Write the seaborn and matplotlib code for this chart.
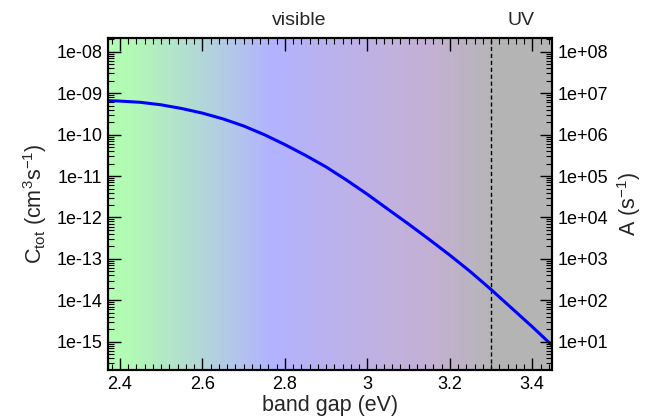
import matplotlib
matplotlib.use("Agg")
import matplotlib.pyplot as plt
import numpy as np
import pandas as pd
import seaborn as sns
from matplotlib.colors import LinearSegmentedColormap
from matplotlib.ticker import FixedLocator, FuncFormatter, MultipleLocator

# Values
band_gap = [2.371, 2.40, 2.45, 2.50, 2.55, 2.60, 2.65, 2.70, 2.75, 2.80, 2.85, 2.90,
            2.95, 3.00, 3.05, 3.10, 3.15, 3.20, 3.25, 3.30, 3.35, 3.40, 3.447]
c_tot = [6.61e-10, 6.46e-10, 6.03e-10, 5.25e-10, 4.27e-10, 3.31e-10, 2.40e-10, 1.62e-10,
         1.00e-10, 5.75e-11, 3.16e-11, 1.66e-11, 7.94e-12, 3.63e-12, 1.58e-12, 6.92e-13,
         2.95e-13, 1.23e-13, 4.90e-14, 1.82e-14, 6.46e-15, 2.29e-15, 8.32e-16]

uv_edge = 3.3
x_lo, x_hi = 2.371, 3.447
c_lo, c_hi = 2.07e-16, 2.18e-08
a_factor = 1e16  # right axis: A = C_tot * 1e16

# background colour stops (eV, colour)
spectrum_ev = [2.371, 2.42, 2.57, 2.77, 2.91, 3.15, 3.299, 3.301, 3.447]
spectrum_col = ["#b2fcb2", "#b2fab4", "#b2dcd2", "#b2b2ff", "#bab2ee",
                "#c4b0d4", "#b6b4b8", "#b4b4b4", "#b4b4b4"]

sns.set_style("ticks")
plt.rcParams["font.family"] = ["Liberation Sans", "DejaVu Sans"]
plt.rcParams["mathtext.fontset"] = "custom"
plt.rcParams["mathtext.rm"] = "Liberation Sans"
plt.rcParams["mathtext.it"] = "Liberation Sans:italic"
plt.rcParams["mathtext.bf"] = "Liberation Sans:bold"


def log_ticks(lo, hi):
    # decade ticks and 2..9 minor ticks that fall inside (lo, hi)
    decades = np.arange(np.floor(np.log10(lo)), np.ceil(np.log10(hi)) + 1)
    major = [10.0 ** d for d in decades if lo <= 10.0 ** d <= hi]
    minor = [m * 10.0 ** d for d in decades for m in range(2, 10) if lo <= m * 10.0 ** d <= hi]
    return major, minor


fig = plt.figure(figsize=(6.52, 4.2), dpi=100)
ax = fig.add_axes([0.1656, 0.119, 0.6805, 0.791])

# spectrum background
pos = [(e - x_lo) / (x_hi - x_lo) for e in spectrum_ev]
cmap = LinearSegmentedColormap.from_list("spec", list(zip(pos, spectrum_col)))
xe = np.linspace(x_lo, x_hi, 700)
vals = ((xe[:-1] + xe[1:]) / 2).reshape(1, -1)
ax.pcolormesh(xe, [c_lo, c_hi], vals, cmap=cmap, vmin=x_lo, vmax=x_hi,
              shading="flat", zorder=0, rasterized=True)

df = pd.DataFrame({"band_gap": band_gap, "c_tot": c_tot})
sns.lineplot(data=df, x="band_gap", y="c_tot", ax=ax, color="#0000ff", lw=2.2, zorder=3)
ax.axvline(uv_edge, color="black", lw=1, ls=(0, (3, 2)), zorder=2)

ax.set_yscale("log")
ax.set_xlim(x_lo, x_hi)
ax.set_ylim(c_lo, c_hi)

exp_fmt = FuncFormatter(lambda v, p: f"1e{int(round(np.log10(v))):+03d}")

ax.xaxis.set_major_locator(MultipleLocator(0.2))
ax.xaxis.set_minor_locator(MultipleLocator(0.02))
ax.xaxis.set_major_formatter(FuncFormatter(lambda v, p: f"{v:g}"))
maj, mnr = log_ticks(c_lo, c_hi)
ax.yaxis.set_major_locator(FixedLocator(maj))
ax.yaxis.set_minor_locator(FixedLocator(mnr))
ax.yaxis.set_major_formatter(exp_fmt)
ax.tick_params(which="both", direction="in", top=True, right=False, colors="black")
ax.tick_params(which="major", length=9, width=1, labelsize=13, pad=4)
ax.tick_params(which="minor", length=4.5, width=0.8)

ax2 = ax.twinx()
ax2.set_yscale("log")
ax2.set_ylim(c_lo * a_factor, c_hi * a_factor)
maj2, mnr2 = log_ticks(c_lo * a_factor, c_hi * a_factor)
ax2.yaxis.set_major_locator(FixedLocator(maj2))
ax2.yaxis.set_minor_locator(FixedLocator(mnr2))
ax2.yaxis.set_major_formatter(exp_fmt)
ax2.tick_params(which="both", direction="in", colors="black")
ax2.tick_params(which="major", length=9, width=1, labelsize=13, pad=4)
ax2.tick_params(which="minor", length=4.5, width=0.8)

for a in (ax, ax2):
    for s in a.spines.values():
        s.set_linewidth(1.5)
        s.set_color("black")

ax.set_xlabel("band gap (eV)", fontsize=15.5, labelpad=2)
ax.set_ylabel(r"C$_{\mathrm{tot}}$ (cm$^{3}$s$^{-1}$)", fontsize=15.5, labelpad=5)
ax2.set_ylabel(r"A (s$^{-1}$)", fontsize=15.5, labelpad=5)

ax.text((x_lo + uv_edge) / 2, 1.038, "visible", transform=ax.get_xaxis_transform(),
        ha="center", va="baseline", fontsize=14)
ax.text((uv_edge + x_hi) / 2, 1.038, "UV", transform=ax.get_xaxis_transform(),
        ha="center", va="baseline", fontsize=14)

fig.savefig("out.png", dpi=100)
